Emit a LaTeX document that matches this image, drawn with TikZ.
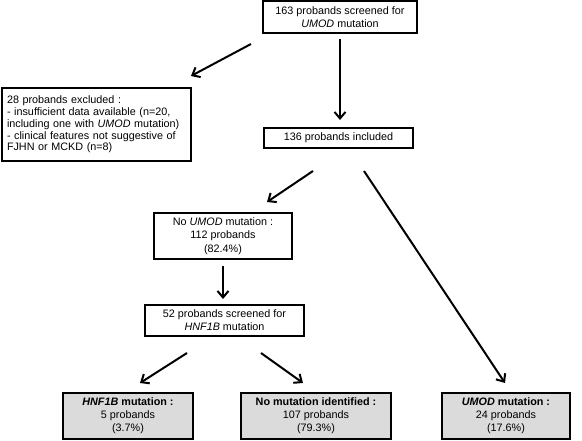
\documentclass[tikz,border=0pt]{standalone}
\usepackage{fontspec}
\setmainfont{Liberation Sans}
\usetikzlibrary{arrows.meta}
\begin{document}
\begin{tikzpicture}[x=1pt,y=-1pt,
  box/.style={draw=black,line width=1.1pt,align=center,inner sep=0pt,
    font=\fontsize{10.8}{12.8}\selectfont},
  res/.style={box,fill=gray!28},
  arr/.style={line width=2pt,-{Straight Barb[length=6.5pt,width=11pt,line width=2pt]}}]
\useasboundingbox (0,0) rectangle (582,441);
\node[box,minimum width=154,minimum height=32] (top) at (340,17)
  {163 probands screened for\\\textit{UMOD} mutation};
\node[box,minimum width=189,minimum height=73,text width=179,align=left,
  font=\fontsize{10.8}{11.8}\selectfont] (excl) at (96.5,124.5)
  {28 probands excluded :\\- insufficient data available (n=20,\\including one with \textit{UMOD} mutation)\\- clinical features not suggestive of\\FJHN or MCKD (n=8)};
\node[box,minimum width=149,minimum height=20] (inc) at (338.5,138) {136 probands included};
\node[box,minimum width=138,minimum height=46,font=\fontsize{10.8}{13.4}\selectfont] (noumod) at (223,236)
  {No \textit{UMOD} mutation :\\112 probands\\(82.4\%)};
\node[box,minimum width=159,minimum height=31] (b52) at (224.5,320.5)
  {52 probands screened for\\\textit{HNF1B} mutation};
\node[res,minimum width=130,minimum height=46] (hnf) at (128,416)
  {\textbf{\textit{HNF1B} mutation :}\\5 probands\\(3.7\%)};
\node[res,minimum width=150,minimum height=46] (nomut) at (316,416)
  {\textbf{No mutation identified :}\\107 probands\\(79.3\%)};
\node[res,minimum width=128,minimum height=46] (umod) at (506,416)
  {\textbf{\textit{UMOD} mutation :}\\24 probands\\(17.6\%)};
\coordinate (a1s) at (251,44);  \coordinate (a1e) at (191,76);
\coordinate (a2s) at (340,39);  \coordinate (a2e) at (340,120);
\coordinate (a3s) at (313,171); \coordinate (a3e) at (267,202);
\coordinate (a4s) at (364,171); \coordinate (a4e) at (505,383);
\coordinate (a5s) at (223,266); \coordinate (a5e) at (223,299);
\coordinate (a6s) at (187,353); \coordinate (a6e) at (140,383);
\coordinate (a7s) at (261,353); \coordinate (a7e) at (303,383);
\draw[arr] (a1s) -- (a1e);
\draw[arr] (a2s) -- (a2e);
\draw[arr] (a3s) -- (a3e);
\draw[arr] (a4s) -- (a4e);
\draw[arr] (a5s) -- (a5e);
\draw[arr] (a6s) -- (a6e);
\draw[arr] (a7s) -- (a7e);
\end{tikzpicture}
\end{document}
